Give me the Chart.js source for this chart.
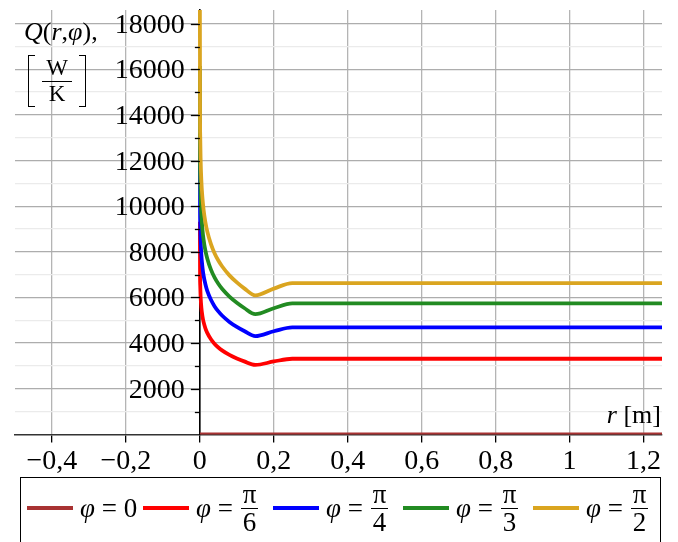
<!DOCTYPE html>
<html>
<head>
<meta charset="utf-8">
<script src="https://cdn.jsdelivr.net/npm/chart.js@4"></script>
<style>
  html, body { margin: 0; padding: 0; background: #fff; }
  body { width: 678px; height: 542px; position: relative; overflow: hidden; font-family: 'Liberation Serif', 'DejaVu Serif', serif; color: #000; }
  #wrap { position: absolute; left: 0; top: 0; width: 678px; height: 480px; }
  .qlab { position: absolute; left: 24px; top: 17px; font-size: 26px; line-height: 30px; }
  .unit { position: absolute; left: 28px; top: 55px; width: 58px; height: 52px; }
  .br { position: absolute; top: 0; width: 6px; height: 50px; border: 1.4px solid #000; }
  .br.l { left: 0; border-right: none; }
  .br.r { right: 0; border-left: none; }
  .ufrac { position: absolute; left: 14px; width: 30px; top: 1px; text-align: center; font-size: 23px; line-height: 24px; }
  .ufrac .n { border-bottom: 1.4px solid #000; padding-bottom: 1px; }
  .rlab { position: absolute; right: 17px; top: 400px; font-size: 26px; line-height: 30px; }
  #legend { position: absolute; left: 20px; top: 477px; width: 641px; height: 70px; border: 1.5px solid #000; box-sizing: border-box;
            display: flex; align-items: center; padding: 0 0 8px 6px; font-size: 27px; }
  .item { display: flex; align-items: center; width: 130px; flex: none; white-space: pre; }
  .item:first-child { width: 116px; }
  .sw { display: inline-block; width: 46px; height: 4px; margin-right: 7px; flex: none; }
  .frac { display: inline-flex; flex-direction: column; align-items: center; margin-left: 1px; line-height: 27px; }
  .frac .n { border-bottom: 1.4px solid #000; padding: 0 2px; }
</style>
</head>
<body>
<div id="wrap"><canvas id="chart"></canvas></div>
<div class="qlab"><i>Q</i>(<i>r</i>,<i>φ</i>),</div>
<div class="unit"><div class="br l"></div><div class="ufrac"><div class="n">W</div><div>K</div></div><div class="br r"></div></div>
<div class="rlab"><i>r</i> [m]</div>
<div id="legend"></div>
<script>
// radius r [m]
const r = [0.0001, 0.0005, 0.001, 0.002, 0.004, 0.007, 0.01, 0.015, 0.02, 0.03, 0.04, 0.05, 0.06, 0.08, 0.1, 0.12, 0.15, 0.2, 0.25, 0.5, 0.75, 1, 1.25];

// Q(r, phi) [W/K]
const q0   = [0, 0, 0, 0, 0, 0, 0, 0, 0, 0, 0, 0, 0, 0, 0, 0, 0, 0, 0, 0, 0, 0, 0];
const qPi6 = [9325, 7020, 6535, 6055, 5570, 5180, 4930, 4650, 4450, 4170, 3965, 3810, 3685, 3485, 3330, 3200, 3045, 3195, 3315, 3315, 3315, 3315, 3315];
const qPi4 = [13190, 9930, 9240, 8560, 7880, 7330, 6970, 6580, 6290, 5900, 5610, 5390, 5210, 4930, 4710, 4530, 4310, 4520, 4690, 4690, 4690, 4690, 4690];
const qPi3 = [16150, 12160, 11320, 10490, 9650, 8970, 8540, 8050, 7710, 7220, 6870, 6600, 6380, 6040, 5770, 5540, 5270, 5530, 5740, 5740, 5740, 5740, 5740];
const qPi2 = [18650, 14040, 13070, 12110, 11140, 10360, 9860, 9300, 8900, 8340, 7930, 7620, 7370, 6970, 6660, 6400, 6090, 6390, 6630, 6630, 6630, 6630, 6630];

const seriesData = [q0, qPi6, qPi4, qPi3, qPi2];
const seriesColors = ['#a83232', '#ff0000', '#0000ff', '#228b22', '#daa520'];
const legendNum = ['0', 'π', 'π', 'π', 'π'];
const legendDen = [null, '6', '4', '3', '2'];

// axis ticks
const xTicks = [-0.4, -0.2, 0, 0.2, 0.4, 0.6, 0.8, 1, 1.2];
const xTickLabels = ['−0,4', '−0,2', '0', '0,2', '0,4', '0,6', '0,8', '1', '1,2'];
const yMajor = [2000, 4000, 6000, 8000, 10000, 12000, 14000, 16000, 18000];
const yMinor = [1000, 3000, 5000, 7000, 9000, 11000, 13000, 15000, 17000];

const FAMILY = "'Liberation Serif', serif";

// legend (HTML, so the fractions can be stacked)
const legend = document.getElementById('legend');
seriesColors.forEach((c, i) => {
  const item = document.createElement('div');
  item.className = 'item';
  let txt = '<span class="sw" style="background:' + c + '"></span><span><i>φ</i> = </span>';
  if (legendDen[i]) {
    txt += '<span class="frac"><span class="n">' + legendNum[i] + '</span><span>' + legendDen[i] + '</span></span>';
  } else {
    txt += '<span>' + legendNum[i] + '</span>';
  }
  item.innerHTML = txt;
  legend.appendChild(item);
});

// y axis sits at r = 0: draw its tick marks and labels left of it
const yAxisAtZero = {
  id: 'yAxisAtZero',
  afterDraw(chart) {
    const { ctx, scales } = chart;
    const x0 = scales.x.getPixelForValue(0);
    ctx.save();
    ctx.strokeStyle = '#000';
    ctx.lineWidth = 1.3;
    yMinor.forEach(v => {
      const py = Math.round(scales.y.getPixelForValue(v)) + 0.5;
      ctx.beginPath();
      ctx.moveTo(x0 - 5, py);
      ctx.lineTo(x0, py);
      ctx.stroke();
    });
    ctx.fillStyle = '#000';
    ctx.font = '28px ' + FAMILY;
    ctx.textAlign = 'right';
    ctx.textBaseline = 'middle';
    yMajor.forEach(v => {
      const py = Math.round(scales.y.getPixelForValue(v)) + 0.5;
      ctx.beginPath();
      ctx.moveTo(x0 - 9, py);
      ctx.lineTo(x0, py);
      ctx.stroke();
      ctx.fillText(String(v), x0 - 15, py + 1);
    });
    ctx.restore();
  }
};

// gold first so it is drawn on top
const order = [4, 3, 2, 1, 0];
const datasets = order.map(i => ({
  data: r.map((x, k) => ({ x: x, y: seriesData[i][k] })),
  borderColor: seriesColors[i],
  borderWidth: 3.8,
  pointRadius: 0,
  cubicInterpolationMode: 'monotone',
  fill: false
}));

new Chart(document.getElementById('chart'), {
  type: 'line',
  data: { datasets: datasets },
  plugins: [yAxisAtZero],
  options: {
    responsive: true,
    maintainAspectRatio: false,
    animation: false,
    devicePixelRatio: 1,
    layout: { padding: { left: 15, right: 16, top: 10, bottom: 0 } },
    plugins: { legend: { display: false }, tooltip: { enabled: false } },
    scales: {
      x: {
        type: 'linear', min: -0.5, max: 1.25, position: 'bottom',
        afterBuildTicks: ax => { ax.ticks = xTicks.map(v => ({ value: v })); },
        ticks: {
          callback: v => xTickLabels[xTicks.indexOf(v)],
          font: { family: FAMILY, size: 28 }, color: '#000', padding: 2, maxRotation: 0, autoSkip: false
        },
        grid: { color: '#b4b4b4', lineWidth: 1.3, tickLength: 8, tickColor: '#000' },
        border: { color: '#333', width: 1.6 }
      },
      y: {
        type: 'linear', min: 0, max: 18600, position: { x: 0 },
        afterBuildTicks: ax => { ax.ticks = yMinor.concat(yMajor).sort((a, b) => a - b).map(v => ({ value: v })); },
        ticks: { display: false },
        grid: {
          color: ctx => yMajor.includes(ctx.tick && ctx.tick.value) ? '#adadad' : '#ebebeb',
          lineWidth: 1.3, drawTicks: false
        },
        border: { color: '#000', width: 1.6 }
      }
    }
  }
});
</script>
</body>
</html>
